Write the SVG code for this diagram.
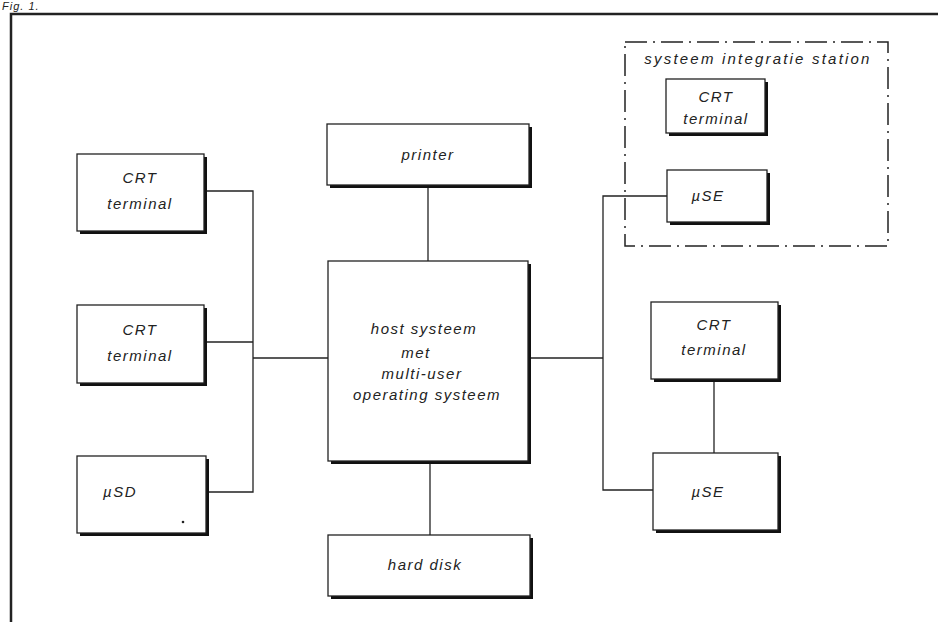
<svg xmlns="http://www.w3.org/2000/svg" width="938" height="622" viewBox="0 0 938 622">
<style>
.frame{fill:none;stroke:#222;stroke-width:2.5}
.sh{fill:#111}
.bx{fill:#fff;stroke:#222;stroke-width:1.3}
.t{font-family:"Liberation Sans",Arial,sans-serif;font-style:italic;font-size:15px;fill:#222;text-anchor:middle;letter-spacing:1.5px}
.c{fill:none;stroke:#222;stroke-width:1.3}
.dd{fill:none;stroke:#222;stroke-width:1.5;stroke-dasharray:22,6,2,6}
</style>
<rect width="938" height="622" fill="#fff"/>
<text x="2" y="10" class="t" style="text-anchor:start;font-size:11px;letter-spacing:1px">Fig. 1.</text>
<rect class="frame" x="11" y="14" width="940" height="620"/>

<g id="connectors">
<polyline class="c" points="204,191 253,191 253,492 206,492"/>
<line class="c" x1="204" y1="342" x2="253" y2="342"/>
<line class="c" x1="253" y1="358" x2="328" y2="358"/>
<line class="c" x1="428" y1="185" x2="428" y2="261"/>
<line class="c" x1="430" y1="461" x2="430" y2="535"/>
<line class="c" x1="528" y1="358" x2="603" y2="358"/>
<polyline class="c" points="667,196 603,196 603,490 653,490"/>
<line class="c" x1="714" y1="379" x2="714" y2="453"/>
</g>

<g id="station">
<rect class="dd" x="625" y="42" width="263" height="204"/>
<text x="758" y="64" class="t" style="font-size:15px;letter-spacing:2.2px">systeem integratie station</text>
</g>

<g id="crt-left-1">
<rect class="sh" x="80" y="157" width="127" height="77"/>
<rect class="bx" x="77" y="154" width="127" height="77"/>
<text x="140" y="183" class="t">CRT</text>
<text x="140" y="209" class="t">terminal</text>
</g>
<g id="crt-left-2">
<rect class="sh" x="80" y="308" width="127" height="78"/>
<rect class="bx" x="77" y="305" width="127" height="78"/>
<text x="140" y="335" class="t">CRT</text>
<text x="140" y="361" class="t">terminal</text>
</g>
<g id="usd">
<rect class="sh" x="80" y="459" width="129" height="77"/>
<rect class="bx" x="77" y="456" width="129" height="77"/>
<text x="120" y="497" class="t">µSD</text>
<circle cx="183" cy="522" r="1.3" fill="#222"/>
</g>
<g id="printer">
<rect class="sh" x="330" y="127" width="202" height="61"/>
<rect class="bx" x="327" y="124" width="202" height="61"/>
<text x="428" y="160" class="t">printer</text>
</g>
<g id="host">
<rect class="sh" x="331" y="264" width="200" height="200"/>
<rect class="bx" x="328" y="261" width="200" height="200"/>
<text x="424" y="334" class="t">host systeem</text>
<text x="416" y="358" class="t">met</text>
<text x="422" y="379" class="t">multi-user</text>
<text x="427" y="400" class="t">operating systeem</text>
</g>
<g id="hard-disk">
<rect class="sh" x="331" y="538" width="202" height="61"/>
<rect class="bx" x="328" y="535" width="202" height="61"/>
<text x="425" y="570" class="t">hard disk</text>
</g>
<g id="crt-station">
<rect class="sh" x="669" y="82" width="99" height="54"/>
<rect class="bx" x="666" y="79" width="99" height="54"/>
<text x="716" y="102" class="t">CRT</text>
<text x="716" y="124" class="t">terminal</text>
</g>
<g id="use-station">
<rect class="sh" x="670" y="173" width="100" height="52"/>
<rect class="bx" x="667" y="170" width="100" height="52"/>
<text x="708" y="201" class="t">µSE</text>
</g>
<g id="crt-right">
<rect class="sh" x="654" y="305" width="127" height="77"/>
<rect class="bx" x="651" y="302" width="127" height="77"/>
<text x="714" y="330" class="t">CRT</text>
<text x="714" y="355" class="t">terminal</text>
</g>
<g id="use-right">
<rect class="sh" x="656" y="456" width="125" height="77"/>
<rect class="bx" x="653" y="453" width="125" height="77"/>
<text x="708" y="497" class="t">µSE</text>
</g>
</svg>
